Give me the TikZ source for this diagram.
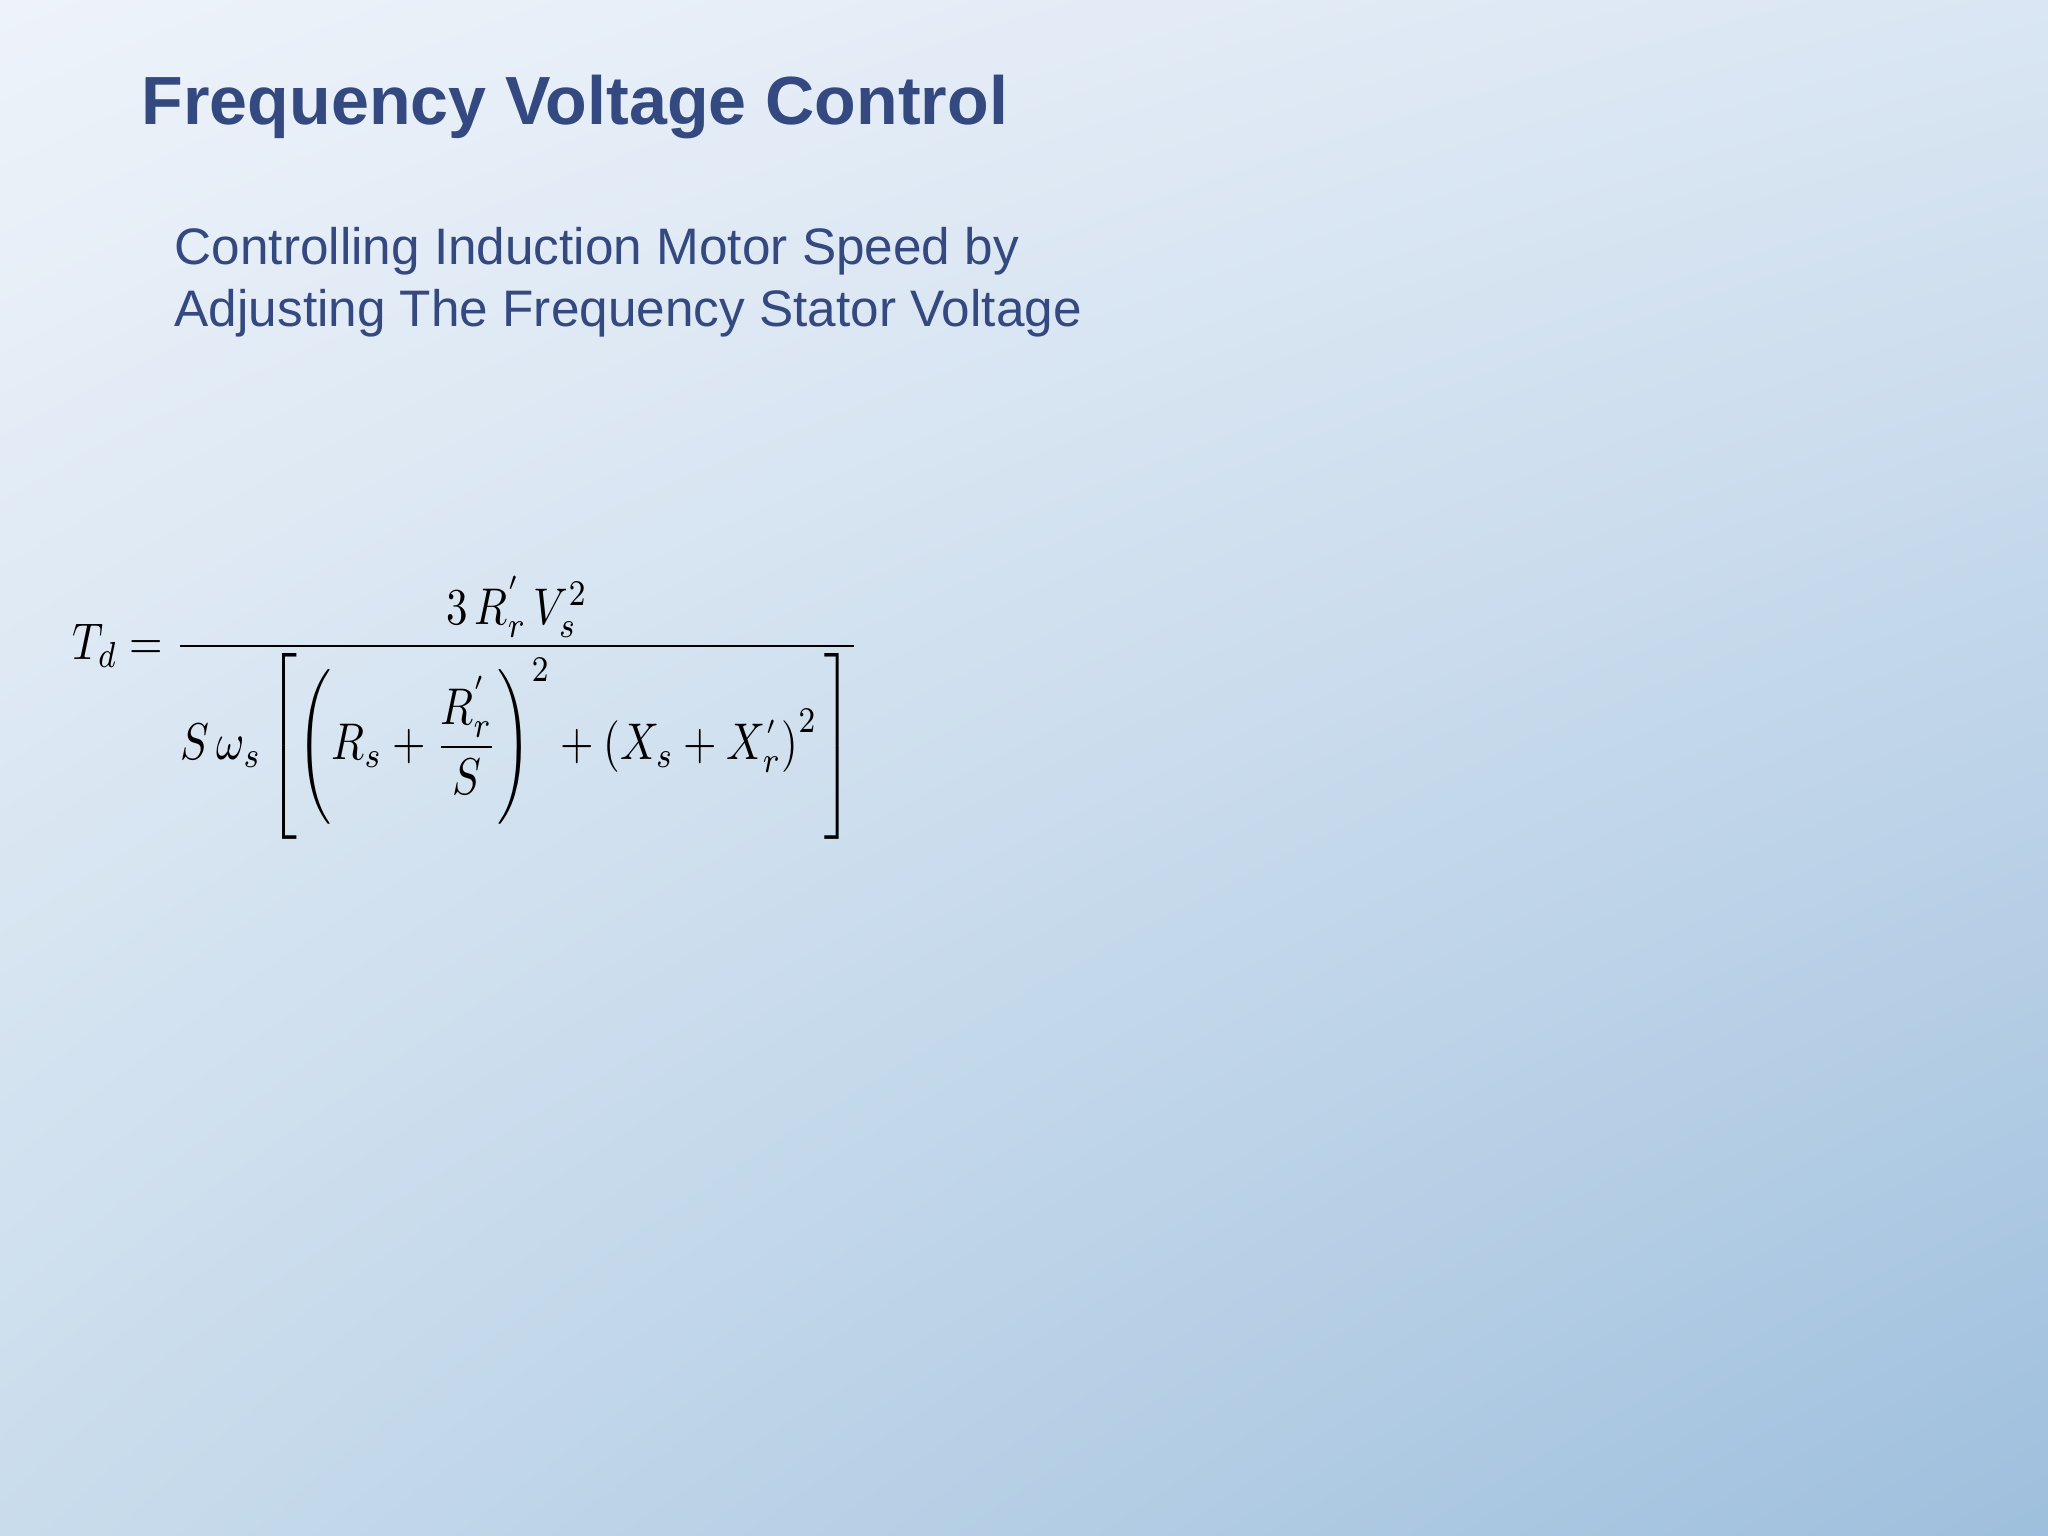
\documentclass[tikz,border=0pt]{standalone}
\usepackage{fontspec}
\setmainfont{Liberation Sans}
\usepackage{amsmath}
\usepackage{graphicx}
\usetikzlibrary{shadings}
\definecolor{titleblue}{HTML}{34497F}
\definecolor{ul}{HTML}{EEF3FA}
\definecolor{ur}{HTML}{DAE6F3}
\definecolor{ll}{HTML}{C9DCEC}
\definecolor{lr}{HTML}{9EBFDD}
\begin{document}
\begin{tikzpicture}[x=1cm,y=1cm]
\shade[upper left=ul,upper right=ur,lower left=ll,lower right=lr] (0,0) rectangle (20.48,-15.36);
\useasboundingbox (0,0) rectangle (20.48,-15.36);
\node[anchor=west,text=titleblue,font=\fontsize{19.4}{24}\selectfont\bfseries,inner sep=0] (title) at (1.41,-1.07) {Frequency Voltage Control};
\node[anchor=north west,text=titleblue,font=\fontsize{14.6}{17.4}\selectfont,align=left,inner sep=0] (sub) at (1.74,-2.27) {Controlling Induction Motor Speed by\\Adjusting The Frequency Stator Voltage};
\node[anchor=north west,inner sep=0] (eq) at (0.72,-5.75) {\scalebox{1}[1.2]{\resizebox{7.86cm}{!}{$\displaystyle T_d=\frac{3\,R_r^{'}\,V_s^2}{S\,\omega_s\left[\left(R_s+\dfrac{R_r^{'}}{S}\right)^{2}+\left(X_s+X_r^{'}\right)^{2}\,\right]}$}}};
\end{tikzpicture}
\end{document}
